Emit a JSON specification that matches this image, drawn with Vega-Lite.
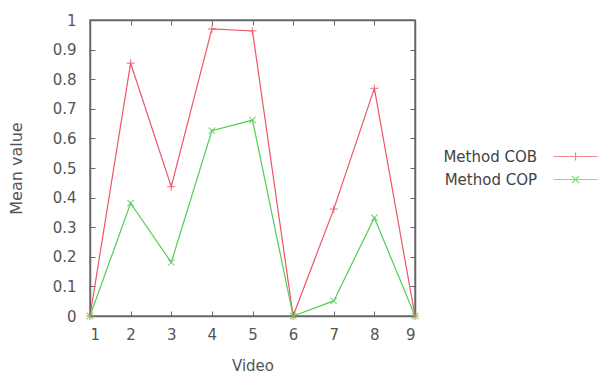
{
  "$schema": "https://vega.github.io/schema/vega-lite/v6.json",
  "autosize": {"type": "none"},
  "padding": {"left": 90, "top": 20, "right": 183, "bottom": 58},
  "width": 325,
  "height": 296,
  "background": "white",
  "config": {
    "view": {"stroke": "#777", "strokeWidth": 1.5},
    "font": "DejaVu Sans",
    "axis": {
      "grid": false,
      "domainColor": "#666",
      "domainWidth": 1.5,
      "tickColor": "#666",
      "tickSize": -5,
      "tickWidth": 1,
      "labelFont": "DejaVu Sans",
      "labelFontSize": 15,
      "labelColor": "#555",
      "titleFont": "DejaVu Sans",
      "titleFontWeight": "normal",
      "titleColor": "#555"
    }
  },
  "data": {
    "values": [
      {"video": 1, "series": "Method COB", "value": 0},
      {"video": 2, "series": "Method COB", "value": 0.854},
      {"video": 3, "series": "Method COB", "value": 0.437},
      {"video": 4, "series": "Method COB", "value": 0.97},
      {"video": 5, "series": "Method COB", "value": 0.963},
      {"video": 6, "series": "Method COB", "value": 0},
      {"video": 7, "series": "Method COB", "value": 0.361},
      {"video": 8, "series": "Method COB", "value": 0.769},
      {"video": 9, "series": "Method COB", "value": 0},
      {"video": 1, "series": "Method COP", "value": 0},
      {"video": 2, "series": "Method COP", "value": 0.381},
      {"video": 3, "series": "Method COP", "value": 0.181},
      {"video": 4, "series": "Method COP", "value": 0.626},
      {"video": 5, "series": "Method COP", "value": 0.662},
      {"video": 6, "series": "Method COP", "value": 0},
      {"video": 7, "series": "Method COP", "value": 0.051},
      {"video": 8, "series": "Method COP", "value": 0.332},
      {"video": 9, "series": "Method COP", "value": 0}
    ]
  },
  "resolve": {"axis": {"x": "independent", "y": "independent"}},
  "layer": [
    {
      "mark": {"type": "line", "strokeWidth": 1.2},
      "encoding": {
        "x": {"field": "video", "type": "quantitative",
              "scale": {"domain": [1, 9], "nice": false, "zero": false},
              "axis": {"orient": "bottom", "values": [1,2,3,4,5,6,7,8,9], "title": "Video", "titleFontSize": 15, "labelPadding": 16, "titlePadding": 16}},
        "y": {"field": "value", "type": "quantitative",
              "scale": {"domain": [0, 1], "nice": false},
              "axis": {"orient": "left", "values": [0,0.1,0.2,0.3,0.4,0.5,0.6,0.7,0.8,0.9,1], "format": "~g", "title": "Mean value", "titleFontSize": 16, "labelPadding": 19, "titlePadding": 28}},
        "color": {"field": "series", "type": "nominal",
                  "scale": {"domain": ["Method COB", "Method COP"], "range": ["#ee5566", "#55cc55"]},
                  "legend": {"orient": "none", "legendX": 478, "legendY": 129, "title": null, "padding": 0,
                             "labelAlign": "right", "labelOffset": -46, "labelFontSize": 15, "labelColor": "#444",
                             "labelFont": "DejaVu Sans", "symbolSize": 100, "symbolStrokeWidth": 1.2, "rowPadding": 7}}
      }
    },
    {
      "mark": {"type": "point", "size": 0, "filled": false},
      "encoding": {
        "x": {"field": "video", "type": "quantitative",
              "axis": {"orient": "top", "values": [1,2,3,4,5,6,7,8,9], "labels": false, "title": null}},
        "y": {"field": "value", "type": "quantitative",
              "axis": {"orient": "right", "values": [0,0.1,0.2,0.3,0.4,0.5,0.6,0.7,0.8,0.9,1], "labels": false, "title": null}},
        "color": {"field": "series", "type": "nominal"},
        "shape": {"field": "series", "type": "nominal",
                  "scale": {"domain": ["Method COB", "Method COP"],
                            "range": ["M-4.4,0H4.4M0,-0.8V0.8", "M-4.4,0H4.4M-0.7,-0.7L0.7,0.7M-0.7,0.7L0.7,-0.7"]}}
      }
    },
    {
      "transform": [{"filter": "datum.series === 'Method COB'"}],
      "mark": {"type": "point", "shape": "M-1,0H1M0,-1V1", "size": 64, "filled": false, "strokeWidth": 1.2},
      "encoding": {
        "x": {"field": "video", "type": "quantitative", "axis": null},
        "y": {"field": "value", "type": "quantitative", "axis": null},
        "color": {"field": "series", "type": "nominal"}
      }
    },
    {
      "transform": [{"filter": "datum.series === 'Method COP'"}],
      "mark": {"type": "point", "shape": "M-1,-1L1,1M-1,1L1,-1", "size": 42, "filled": false, "strokeWidth": 1.2},
      "encoding": {
        "x": {"field": "video", "type": "quantitative", "axis": null},
        "y": {"field": "value", "type": "quantitative", "axis": null},
        "color": {"field": "series", "type": "nominal"}
      }
    }
  ]
}
